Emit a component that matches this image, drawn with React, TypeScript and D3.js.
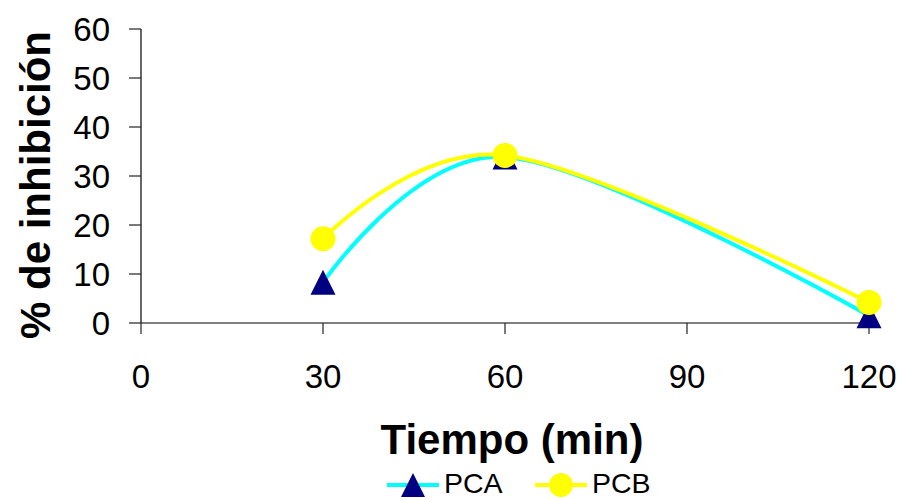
import React from 'react';
import * as d3 from 'd3';

// data
const tiempos = [30, 60, 120];
const pca = [8.3, 33.9, 1.5];
const pcb = [17.2, 34.2, 4.2];
const xTicks = [0, 30, 60, 90, 120];
const yTicks = [0, 10, 20, 30, 40, 50, 60];

const W = 901, H = 500;
const font = 'Arial, "Liberation Sans", sans-serif';

// excel-like triangle marker, 25 x 25 box centred on the point
const triPath = (s: number) => `M0,${-s}L${s},${s}L${-s},${s}Z`;

function App() {
  const x = d3.scaleLinear().domain([0, 120]).range([141, 869]);
  const y = d3.scaleLinear().domain([0, 60]).range([323, 29]);

  const line = d3.line<number>()
    .x((d, i) => x(tiempos[i]))
    .y(d => y(d))
    .curve(d3.curveCardinal.tension(0));

  return (
    <svg width={W} height={H} style={{ display: 'block', position: 'absolute', left: 0, top: 0 }}>
      {/* y axis */}
      <line x1={x(0)} x2={x(0)} y1={y(60)} y2={y(0)} stroke="#000" strokeWidth={1.2} />
      {yTicks.map(t => (
        <g key={'y' + t}>
          <line x1={x(0) - 12} x2={x(0)} y1={y(t)} y2={y(t)} stroke="#222" strokeWidth={1.2} />
          <text x={110} y={y(t)} dy="0.35em" textAnchor="end" fontFamily={font} fontSize={33}>{t}</text>
        </g>
      ))}
      {/* x axis */}
      <line x1={x(0)} x2={x(120)} y1={y(0)} y2={y(0)} stroke="#000" strokeWidth={1.2} />
      {xTicks.map(t => (
        <g key={'x' + t}>
          <line x1={x(t)} x2={x(t)} y1={y(0)} y2={y(0) + 11} stroke="#222" strokeWidth={1.2} />
          <text x={x(t)} y={388} textAnchor="middle" fontFamily={font} fontSize={33}>{t}</text>
        </g>
      ))}

      <text transform={`translate(50,185) rotate(-90)`} textAnchor="middle" fontFamily={font}
        fontSize={42} fontWeight="bold">% de inhibición</text>
      <text x={512} y={454} textAnchor="middle" fontFamily={font} fontSize={42} fontWeight="bold">Tiempo (min)</text>

      {/* series */}
      <path d={line(pca) || ''} fill="none" stroke="#00FFFF" strokeWidth={4} />
      <path d={line(pcb) || ''} fill="none" stroke="#FFFF00" strokeWidth={4} />
      {pca.map((v, i) => (
        <path key={'a' + i} d={triPath(12.5)} transform={`translate(${x(tiempos[i])},${y(v)})`} fill="#000080" />
      ))}
      {pcb.map((v, i) => (
        <circle key={'b' + i} cx={x(tiempos[i])} cy={y(v)} r={12.5} fill="#FFFF00" />
      ))}

      {/* legend */}
      <g>
        <line x1={387} x2={439} y1={485} y2={485} stroke="#00FFFF" strokeWidth={4} />
        <path d={triPath(12)} transform="translate(413,485)" fill="#000080" />
        <text x={444} y={493} fontFamily={font} fontSize={28.5}>PCA</text>
        <line x1={535} x2={587} y1={485} y2={485} stroke="#FFFF00" strokeWidth={4} />
        <circle cx={561} cy={485} r={12} fill="#FFFF00" />
        <text x={592} y={493} fontFamily={font} fontSize={28.5}>PCB</text>
      </g>
    </svg>
  );
}

export default App;
